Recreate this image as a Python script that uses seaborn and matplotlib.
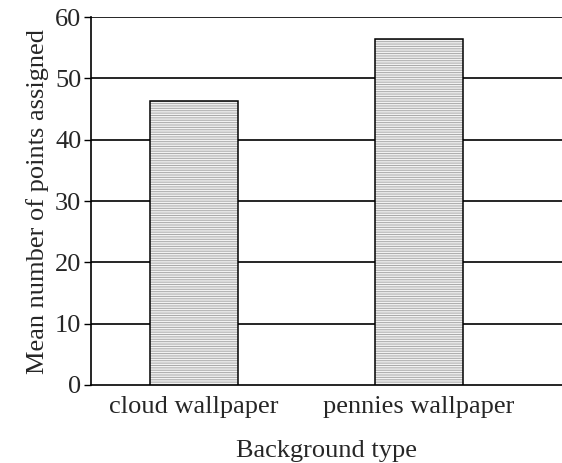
import matplotlib
matplotlib.use("Agg")
import matplotlib.pyplot as plt
from matplotlib.patches import Rectangle
import seaborn as sns
import pandas as pd

categories = ["cloud wallpaper", "pennies wallpaper"]
mean_points = [46.3, 56.5]
yticks = [0, 10, 20, 30, 40, 50, 60]

sns.set_theme(style="white")
plt.rcParams['font.family'] = ['Liberation Serif', 'DejaVu Serif']
plt.rcParams['hatch.linewidth'] = 0.7

df = pd.DataFrame({"Background type": categories, "Mean": mean_points})

fig = plt.figure(figsize=(5.62, 4.63), dpi=100)
ax = fig.add_axes([0.162, 0.1685, 0.838, 0.7945])

sns.barplot(data=df, x="Background type", y="Mean", ax=ax, color="#f2f2f2",
            width=0.39, edgecolor="#a8a8a8", linewidth=0, zorder=3)
for p in list(ax.patches):
    p.set_hatch('-------')
    ax.add_patch(Rectangle(p.get_xy(), p.get_width(), p.get_height(),
                           fill=False, edgecolor='black', linewidth=1.1, zorder=4))

ax.set_xlim(-0.458, 1.636)
ax.set_ylim(0, 60)
ax.set_yticks(yticks)
ax.set_yticklabels([str(t) for t in yticks], fontsize=19)
ax.tick_params(axis='x', labelsize=19, length=0, pad=8)
ax.tick_params(axis='y', length=5, width=1, color='black', left=True, pad=2)
for t in yticks[1:]:
    ax.axhline(t, color='black', linewidth=1.2, zorder=1)
for s in ['top', 'right']:
    ax.spines[s].set_visible(False)
for s in ['left', 'bottom']:
    ax.spines[s].set_color('black')
    ax.spines[s].set_linewidth(1.2)
ax.set_xlabel("Background type", fontsize=19, labelpad=16)
ax.set_ylabel("Mean number of points assigned", fontsize=19, labelpad=4)

fig.savefig("out.png", dpi=100)
